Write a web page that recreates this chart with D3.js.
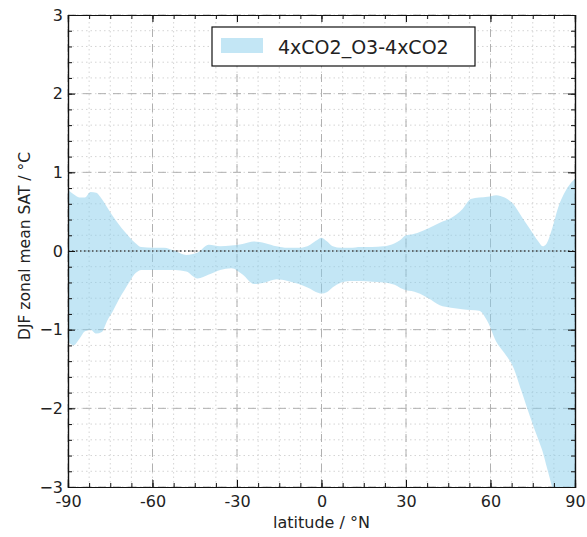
<!DOCTYPE html>
<html>
<head>
<meta charset="utf-8">
<script src="https://cdn.jsdelivr.net/npm/d3@7"></script>
<style>
  body { margin: 0; background: #fff; }
  text { font-family: "DejaVu Sans", sans-serif; fill: #222; }
</style>
</head>
<body>
<div id="app"></div>
<script>
const width = 587,
    height = 537;

const margin = {left: 68, right: 12, top: 15, bottom: 50};

const seriesName = "4xCO2_O3-4xCO2";

// latitude (deg N)
const lat = [-90, -88, -86, -84, -82, -80, -78, -76, -74, -72, -70, -68, -66, -64, -60, -56, -52, -48, -44, -40,
    -36, -32, -28, -24, -20, -16, -12, -8, -4, -2, 0, 2, 4, 7, 10, 14, 18, 22, 26, 28, 30, 32, 34, 38, 42, 46,
    50, 53, 56, 59, 62, 65, 68, 71, 74, 77, 78.5, 80, 82, 84, 86, 88, 90];

// upper edge of band
const upper = [0.78, 0.72, 0.68, 0.68, 0.75, 0.74, 0.66, 0.55, 0.44, 0.34, 0.25, 0.17, 0.10, 0.05, 0.04, 0.04, 0.0, -0.05, -0.02, 0.08,
    0.06, 0.07, 0.09, 0.12, 0.10, 0.06, 0.04, 0.04, 0.08, 0.13, 0.17, 0.12, 0.06, 0.04, 0.04, 0.05, 0.05, 0.06, 0.10, 0.14, 0.20, 0.21, 0.23, 0.29, 0.36, 0.42,
    0.53, 0.66, 0.68, 0.69, 0.71, 0.68, 0.60, 0.44, 0.28, 0.12, 0.06, 0.10, 0.30, 0.55, 0.72, 0.84, 0.92];

// lower edge of band
const lower = [-1.15, -1.2, -1.12, -1.02, -1.0, -1.05, -1.03, -0.88, -0.76, -0.62, -0.50, -0.38, -0.28, -0.24, -0.24, -0.24, -0.24, -0.26, -0.35, -0.30,
    -0.24, -0.22, -0.30, -0.42, -0.40, -0.36, -0.38, -0.42, -0.48, -0.52, -0.54, -0.52, -0.46, -0.40, -0.38, -0.38, -0.39, -0.40, -0.43, -0.47, -0.50, -0.51, -0.53, -0.60, -0.69, -0.72,
    -0.74, -0.75, -0.76, -0.90, -1.15, -1.30, -1.47, -1.78, -2.10, -2.40, -2.55, -2.75, -3.02, -3.3, -3.6, -3.9, -4.2];

const xTicks = [-90, -60, -30, 0, 30, 60, 90];
const yTicks = [-3, -2, -1, 0, 1, 2, 3];

const band = lat.map((d, i) => ({lat: d, hi: upper[i], lo: lower[i]}));

const x = d3.scaleLinear().domain([-90, 90]).range([margin.left, width - margin.right]);
const y = d3.scaleLinear().domain([-3, 3]).range([height - margin.bottom, margin.top]);

const xMinor = d3.range(-90, 90.1, 7.5);
const yMinor = d3.range(-3, 3.01, 0.2).map(v => +v.toFixed(1));

const svg = d3.select("#app")
    .append("svg")
    .attr("width", width)
    .attr("height", height);

svg.append("clipPath").attr("id", "clip")
    .append("rect")
    .attr("x", margin.left).attr("y", margin.top)
    .attr("width", x(90) - x(-90)).attr("height", y(-3) - y(3));

//minor grid
const grid = svg.append("g");
grid.selectAll("line.xmin")
    .data(xMinor).enter()
    .append("line")
    .attr("x1", d => x(d)).attr("x2", d => x(d))
    .attr("y1", y(-3)).attr("y2", y(3))
    .attr("stroke", "#d4d4d4").attr("stroke-width", 1)
    .attr("stroke-dasharray", "1.5,3");
grid.selectAll("line.ymin")
    .data(yMinor).enter()
    .append("line")
    .attr("y1", d => y(d)).attr("y2", d => y(d))
    .attr("x1", x(-90)).attr("x2", x(90))
    .attr("stroke", "#d4d4d4").attr("stroke-width", 1)
    .attr("stroke-dasharray", "1.5,3");

//major grid
grid.selectAll("line.xmaj")
    .data(xTicks).enter()
    .append("line")
    .attr("x1", d => x(d)).attr("x2", d => x(d))
    .attr("y1", y(-3)).attr("y2", y(3))
    .attr("stroke", "#b0b0b0").attr("stroke-width", 1)
    .attr("stroke-dasharray", "8,7");
grid.selectAll("line.ymaj")
    .data(yTicks).enter()
    .append("line")
    .attr("y1", d => y(d)).attr("y2", d => y(d))
    .attr("x1", x(-90)).attr("x2", x(90))
    .attr("stroke", "#b0b0b0").attr("stroke-width", 1)
    .attr("stroke-dasharray", "8,7");

const area = d3.area()
    .x(d => x(d.lat))
    .y0(d => y(d.lo))
    .y1(d => y(d.hi))
    .curve(d3.curveMonotoneX);

svg.append("path")
    .datum(band)
    .attr("clip-path", "url(#clip)")
    .attr("d", area)
    .attr("fill", "#87ceeb")
    .attr("fill-opacity", 0.5);

//zero line
svg.append("line")
    .attr("x1", x(-90)).attr("x2", x(90))
    .attr("y1", y(0)).attr("y2", y(0))
    .attr("stroke", "#444").attr("stroke-width", 1.3)
    .attr("stroke-dasharray", "1.5,2.5");

//axes, ticks inward on all four sides
const axes = svg.append("g");
axes.append("g")
    .attr("transform", `translate(0, ${y(-3)})`)
    .call(d3.axisBottom(x).tickValues(xTicks).tickSize(-7).tickPadding(9).tickFormat(d => String(d)));
axes.append("g")
    .attr("transform", `translate(0, ${y(-3)})`)
    .call(d3.axisBottom(x).tickValues(xMinor).tickSize(-4).tickFormat(""));
axes.append("g")
    .attr("transform", `translate(0, ${y(3)})`)
    .call(d3.axisTop(x).tickValues(xTicks).tickSize(-7).tickFormat(""));
axes.append("g")
    .attr("transform", `translate(0, ${y(3)})`)
    .call(d3.axisTop(x).tickValues(xMinor).tickSize(-4).tickFormat(""));
axes.append("g")
    .attr("transform", `translate(${x(-90)}, 0)`)
    .call(d3.axisLeft(y).tickValues(yTicks).tickSize(-7).tickPadding(5).tickFormat(d => d < 0 ? "\u2212" + Math.abs(d) : String(d)));
axes.append("g")
    .attr("transform", `translate(${x(-90)}, 0)`)
    .call(d3.axisLeft(y).tickValues(yMinor).tickSize(-4).tickFormat(""));
axes.append("g")
    .attr("transform", `translate(${x(90)}, 0)`)
    .call(d3.axisRight(y).tickValues(yTicks).tickSize(-7).tickFormat(""));
axes.append("g")
    .attr("transform", `translate(${x(90)}, 0)`)
    .call(d3.axisRight(y).tickValues(yMinor).tickSize(-4).tickFormat(""));

axes.selectAll(".domain").attr("stroke", "#111").attr("stroke-width", 1.2);
axes.selectAll(".tick line").attr("stroke", "#111");
axes.selectAll(".tick text")
    .attr("font-family", "DejaVu Sans, sans-serif")
    .attr("font-size", 16)
    .attr("fill", "#222");

//axis labels
svg.append("text")
    .attr("x", (x(-90) + x(90)) / 2)
    .attr("y", 528)
    .attr("text-anchor", "middle")
    .attr("font-size", 16)
    .text("latitude / °N");

svg.append("text")
    .attr("transform", `translate(30, ${(y(-3) + y(3)) / 2 - 5}) rotate(-90)`)
    .attr("text-anchor", "middle")
    .attr("font-size", 15.5)
    .text("DJF zonal mean SAT / °C");

//legend
const legend = svg.append("g").attr("transform", "translate(212, 27)");
legend.append("rect")
    .attr("width", 263).attr("height", 39)
    .attr("fill", "#fff").attr("stroke", "#111").attr("stroke-width", 1.2);
legend.append("rect")
    .attr("x", 9).attr("y", 11)
    .attr("width", 42).attr("height", 15)
    .attr("fill", "#87ceeb").attr("fill-opacity", 0.5);
legend.append("text")
    .attr("x", 66).attr("y", 27)
    .attr("font-size", 19)
    .text(seriesName);
</script>
</body>
</html>
